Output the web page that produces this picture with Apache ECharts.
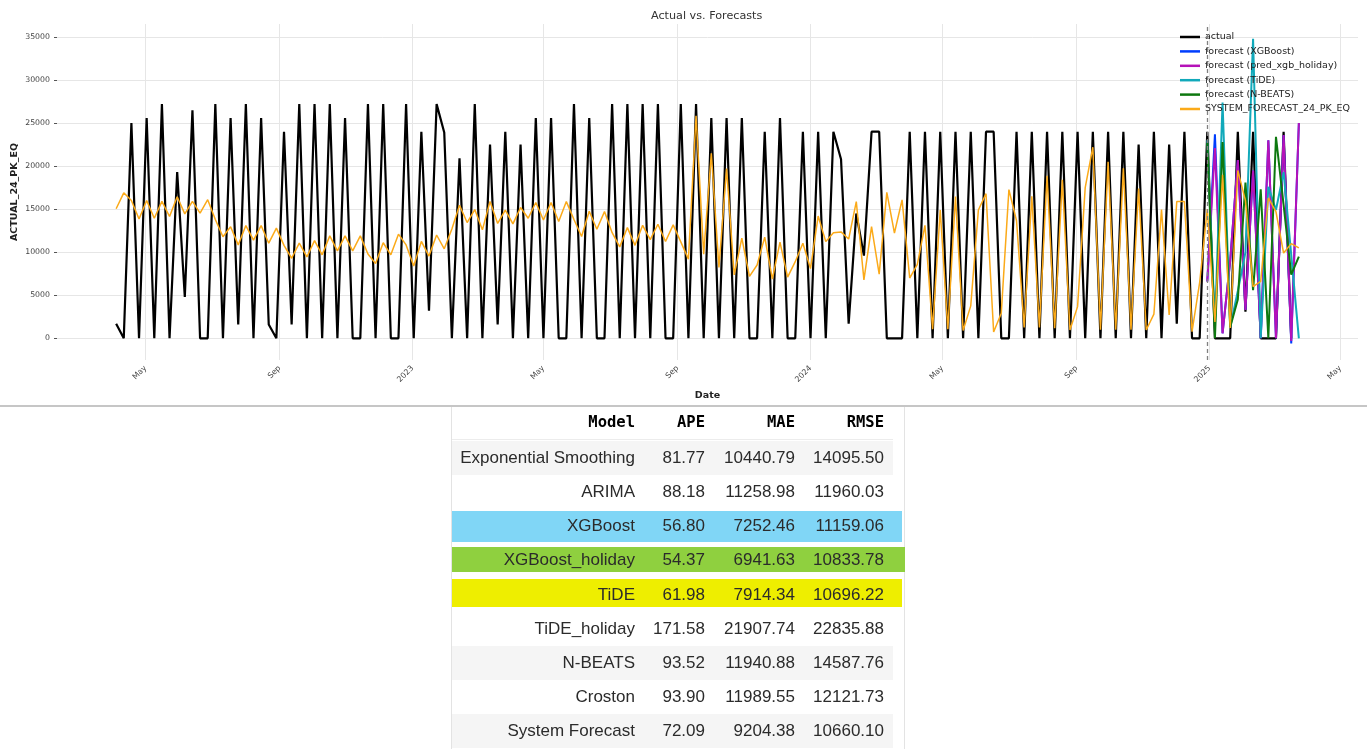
<!DOCTYPE html>
<html>
<head>
<meta charset="utf-8">
<title>Actual vs. Forecasts</title>
<script src="https://cdn.jsdelivr.net/npm/echarts@6/dist/echarts.min.js"></script>
<style>
  body { margin: 0; background: #fff; width: 1367px; height: 749px; overflow: hidden; position: relative; }
  #viz3 { position: absolute; left: 0; top: 0; width: 1367px; height: 400px; }
  #sep { position: absolute; left: 0; top: 405px; width: 1367px; height: 2px; background: #c6c6c6; }
  #metrics { position: absolute; left: 0; top: 0; width: 1367px; height: 749px; pointer-events: none; }
  .cell { position: absolute; white-space: nowrap; text-align: right; }
  .hd { font-family: "DejaVu Sans Mono", monospace; font-weight: bold; font-size: 15.5px; color: #000; }
  .bd { font-family: "Liberation Sans", Arial, sans-serif; font-size: 17px; color: #2b2b2b; }
</style>
</head>
<body>
<div id="viz3"></div>
<div id="sep"></div>
<div id="metrics"></div>
<script>
// weekly data, first week starts 2022-04-04
var firstWeek = "2022-04-04";
var forecastStart = 143; // week index of 2024-12-30

var actual = [
  1700, 0, 25000, 0, 25600, 0, 27200, 0, 19300, 4800,
  26500, 0, 0, 27200, 0, 25600, 1600, 27200, 0, 25600,
  1600, 0, 24000, 1600, 27200, 0, 27200, 0, 27200, 0,
  25600, 0, 0, 27200, 0, 27200, 0, 0, 27200, 0,
  24000, 3200, 27200, 23900, 0, 20900, 0, 27200, 0, 22500,
  1600, 24000, 0, 22500, 0, 25600, 0, 25600, 0, 0,
  27200, 0, 25600, 0, 0, 27200, 0, 27200, 0, 27200,
  0, 27200, 0, 0, 27200, 0, 27200, 0, 25600, 0,
  25600, 0, 25600, 0, 0, 24000, 0, 25600, 0, 0,
  24000, 0, 24000, 0, 24000, 20800, 1700, 14500, 9600, 24000,
  24000, 0, 0, 0, 24000, 0, 24000, 0, 24000, 0,
  24000, 0, 24000, 0, 24000, 24000, 0, 0, 24000, 0,
  24000, 0, 24000, 0, 24000, 0, 24000, 0, 24000, 0,
  24000, 0, 24000, 0, 22500, 0, 24000, 0, 22500, 1700,
  24000, 0, 0, 24000, 0, 0, 0, 24000, 3100, 24000,
  0, 0, 0, 24000, 0
];

var systemForecast = [
  15050, 16900, 16000, 13850, 16000, 13950, 15900, 14150, 16450, 14450,
  15900, 14550, 16100, 13800, 11800, 12950, 10850, 13100, 11400, 13100,
  11050, 12800, 10800, 9300, 11050, 9450, 11350, 9700, 11900, 10150,
  11900, 10150, 11900, 9800, 8700, 11100, 9700, 12100, 10850, 8400,
  11250, 9550, 12000, 10400, 12700, 15450, 13450, 14950, 12600, 15900,
  13350, 14900, 13300, 15200, 13950, 15770, 13750, 15780, 13560, 15880,
  13800, 11820, 14750, 12670, 14720, 12270, 10620, 12860, 10800, 13130,
  11470, 13250, 11240, 13170, 11200, 9200, 25860, 9780, 21500, 8230,
  19720, 7360, 11630, 7200, 8520, 11750, 6880, 11170, 7100, 8900,
  11050, 8100, 14200, 11230, 12250, 12360, 11530, 15880, 6780, 12970,
  7450, 16950, 12230, 16080, 7000, 8600, 13130, 1060, 14910, 1060,
  16470, 900, 3770, 14910, 16800, 730, 2900, 17270, 13660, 1260,
  16500, 1260, 18880, 1160, 18400, 970, 3680, 17500, 22200, 1000,
  20500, 1000, 19750, 1000, 17400, 970, 2800, 14950, 2700, 15880,
  15880, 770, 6500, 15000, 1900, 19000, 1200, 19500, 16000, 6000,
  6600, 16300, 14700, 9900, 11000, 10500
];

// forecasts from forecastStart, 13 weeks
var xgboost    = [6600, 23700, 580, 9000, 20700, 3300, 19500, 0, 23000, 0, 23600, -600, 25000];
var xgbHoliday = [6600, 22100, 580, 9000, 20700, 3300, 19500, 0, 23000, 0, 23600, -300, 25000];
var tide       = [23000, 1500, 27400, 1300, 5500, 10000, 34800, 0, 17600, 14900, 19300, 9700, 0];
var nbeats     = [22700, 0, 22800, 1300, 4500, 18100, 5600, 17300, 0, 23400, 15500, 7400, 9500];

var tickDates  = ["2022-05-01", "2022-09-01", "2023-01-01", "2023-05-01", "2023-09-01",
                  "2024-01-01", "2024-05-01", "2024-09-01", "2025-01-01", "2025-05-01"];
var tickLabels = ["May", "Sep", "2023", "May", "Sep", "2024", "May", "Sep", "2025", "May"];
var yTicks = [0, 5000, 10000, 15000, 20000, 25000, 30000, 35000];

// metrics table
var models = ["Exponential Smoothing", "ARIMA", "XGBoost", "XGBoost_holiday", "TiDE",
              "TiDE_holiday", "N-BEATS", "Croston", "System Forecast"];
var ape  = [81.77, 88.18, 56.80, 54.37, 61.98, 171.58, 93.52, 93.90, 72.09];
var mae  = [10440.79, 11258.98, 7252.46, 6941.63, 7914.34, 21907.74, 11940.88, 11989.55, 9204.38];
var rmse = [14095.50, 11960.03, 11159.06, 10833.78, 10696.22, 22835.88, 14587.76, 12121.73, 10660.10];

// ---- table under the chart ----
var box = document.getElementById("metrics");
function addDiv(cls, css, text) {
  var d = document.createElement("div");
  d.className = cls;
  d.style.cssText = css;
  if (text !== undefined) d.textContent = text;
  box.appendChild(d);
}
addDiv("", "position:absolute;left:451px;top:407px;width:1px;height:342px;background:#e3e3e3;");
addDiv("", "position:absolute;left:904px;top:407px;width:1px;height:342px;background:#e3e3e3;");
addDiv("", "position:absolute;left:452px;top:439px;width:441px;height:1px;background:#ececec;");

var colRight = [635, 705, 795, 884];
var rowPitch = 34.2, firstRowMid = 457.7, headMid = 421.7;
var highlight = {
  2: { color: "#80d6f6", top: 511, bottom: 542, right: 902 },
  3: { color: "#8fd03f", top: 547, bottom: 572, right: 905 },
  4: { color: "#eeee00", top: 579, bottom: 607, right: 902 }
};
models.forEach(function (m, r) {
  var mid = firstRowMid + r * rowPitch;
  var h = highlight[r];
  if (h) {
    addDiv("", "position:absolute;left:452px;top:" + h.top + "px;width:" + (h.right - 452) +
      "px;height:" + (h.bottom - h.top) + "px;background:" + h.color + ";");
  } else if (r % 2 === 0) {
    addDiv("", "position:absolute;left:452px;top:" + (mid - rowPitch / 2) + "px;width:441px;height:" +
      rowPitch + "px;background:#f5f5f5;");
  }
});
function cellCss(right, mid, h) {
  return "left:" + (right - 300) + "px;width:300px;top:" + (mid - h / 2) + "px;height:" + h + "px;line-height:" + h + "px;";
}
["Model", "APE", "MAE", "RMSE"].forEach(function (t, c) {
  addDiv("cell hd", cellCss(colRight[c], headMid, 20), t);
});
models.forEach(function (m, r) {
  var mid = firstRowMid + r * rowPitch;
  addDiv("cell bd", cellCss(colRight[0], mid, 22), m);
  addDiv("cell bd", cellCss(colRight[1], mid, 22), ape[r].toFixed(2));
  addDiv("cell bd", cellCss(colRight[2], mid, 22), mae[r].toFixed(2));
  addDiv("cell bd", cellCss(colRight[3], mid, 22), rmse[r].toFixed(2));
});

// ---- chart ----
var WEEK = 7 * 24 * 3600 * 1000;
var t0 = Date.parse(firstWeek);
function weekTs(i) { return t0 + i * WEEK; }
function toPairs(values, offset) {
  return values.map(function (v, i) { return [weekTs(offset + i), v]; });
}
var tickTs = tickDates.map(function (d) { return Date.parse(d); });
var lastWeek = forecastStart + xgboost.length - 1;
var span = weekTs(lastWeek) - weekTs(0);

var myChart = echarts.init(document.getElementById("viz3"));

function fc(name, values, color) {
  return {
    name: name, type: "line", symbol: "none", data: toPairs(values, forecastStart),
    lineStyle: { width: 2, color: color }, itemStyle: { color: color }
  };
}

var option = {
  animation: false,
  textStyle: { fontFamily: "DejaVu Sans" },
  title: {
    text: "Actual vs. Forecasts", left: 646, top: 6,
    textStyle: { fontSize: 11.2, fontWeight: "normal", color: "#333" }
  },
  legend: {
    orient: "vertical", left: 1175, top: 26, icon: "rect", itemWidth: 20, itemHeight: 2.5, itemGap: 2.4,
    textStyle: { fontSize: 9.5, color: "#222", lineHeight: 12 }
  },
  grid: { left: 57, right: 9, top: 24, bottom: 40, outerBoundsMode: "none" },
  xAxis: {
    type: "value",
    min: weekTs(0) - span * 0.05,
    max: weekTs(lastWeek) + span * 0.05,
    name: "Date", nameLocation: "middle", nameGap: 31,
    nameTextStyle: { fontWeight: "bold", fontSize: 9.5, color: "#222" },
    axisLine: { show: false },
    axisTick: { show: false, customValues: tickTs },
    axisLabel: {
      customValues: tickTs, rotate: 45, margin: 7, fontSize: 7.8, color: "#444",
      formatter: function (v) {
        var i = tickTs.indexOf(v);
        return i >= 0 ? tickLabels[i] : "";
      }
    },
    splitLine: { show: true, lineStyle: { color: "#e6e6e6", width: 1 } }
  },
  yAxis: {
    type: "value", min: -2520, max: 36510,
    name: "ACTUAL_24_PK_EQ", nameLocation: "middle", nameGap: 37, nameMoveOverlap: false,
    nameTextStyle: { fontWeight: "bold", fontSize: 9.5, color: "#222" },
    axisLine: { show: false },
    axisTick: { show: true, length: 3, customValues: yTicks, lineStyle: { color: "#555" } },
    axisLabel: {
      customValues: yTicks, margin: 7, fontSize: 7.8, color: "#444",
      formatter: function (v) { return String(v); }
    },
    splitLine: { show: true, lineStyle: { color: "#e6e6e6", width: 1 } }
  },
  series: [
    {
      name: "actual", type: "line", symbol: "none", data: toPairs(actual, 0),
      lineStyle: { width: 2.2, color: "#000" }, itemStyle: { color: "#000" },
      markLine: {
        silent: true, symbol: ["none", "none"], label: { show: false },
        lineStyle: { color: "#808080", type: [4, 3], width: 1.3 },
        data: [{ xAxis: weekTs(forecastStart) }]
      }
    },
    fc("forecast (XGBoost)", xgboost, "#003DFD"),
    fc("forecast (pred_xgb_holiday)", xgbHoliday, "#b512b8"),
    fc("forecast (TiDE)", tide, "#11a9ba"),
    fc("forecast (N-BEATS)", nbeats, "#0d780f"),
    {
      name: "SYSTEM_FORECAST_24_PK_EQ", type: "line", symbol: "none", data: toPairs(systemForecast, 0),
      lineStyle: { width: 1.5, color: "#fbaa19" }, itemStyle: { color: "#fbaa19" }
    }
  ]
};
myChart.setOption(option);
</script>
</body>
</html>
